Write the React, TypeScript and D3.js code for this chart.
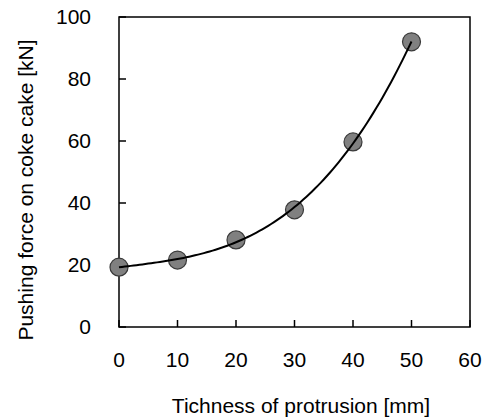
import React from "react";
import * as d3 from "d3";

const thickness = [0, 10, 20, 30, 40, 50];
const force = [19.3, 21.6, 28.1, 37.8, 59.7, 92.0];
const xTicks = [0, 10, 20, 30, 40, 50, 60];
const yTicks = [0, 20, 40, 60, 80, 100];

// Least-squares cubic fit of force vs thickness, used for the trend curve.
function polyFit(xs: number[], ys: number[], deg: number): number[] {
  const n = deg + 1;
  const A: number[][] = Array.from({ length: n }, () => new Array(n + 1).fill(0));
  for (let r = 0; r < n; r++) {
    for (let c = 0; c < n; c++) {
      A[r][c] = d3.sum(xs, (x) => Math.pow(x, r + c));
    }
    A[r][n] = d3.sum(xs, (x, i) => ys[i] * Math.pow(x, r));
  }
  for (let i = 0; i < n; i++) {
    let p = i;
    for (let k = i + 1; k < n; k++) if (Math.abs(A[k][i]) > Math.abs(A[p][i])) p = k;
    [A[i], A[p]] = [A[p], A[i]];
    for (let k = i + 1; k < n; k++) {
      const f = A[k][i] / A[i][i];
      for (let c = i; c <= n; c++) A[k][c] -= f * A[i][c];
    }
  }
  const coef = new Array(n).fill(0);
  for (let i = n - 1; i >= 0; i--) {
    let s = A[i][n];
    for (let c = i + 1; c < n; c++) s -= A[i][c] * coef[c];
    coef[i] = s / A[i][i];
  }
  return coef;
}

export default function App() {
  const width = 488;
  const height = 419;
  const left = 119;
  const right = 470;
  const top = 17;
  const bottom = 327;

  const x = d3.scaleLinear().domain([0, 60]).range([left, right]);
  const y = d3.scaleLinear().domain([0, 100]).range([bottom, top]);

  const coef = polyFit(thickness, force, 3);
  const fit = (t: number) => coef.reduce((s, c, i) => s + c * Math.pow(t, i), 0);
  const curvePts = d3.range(0, 50.01, 0.5).map((t) => [t, fit(t)] as [number, number]);
  const line = d3
    .line<[number, number]>()
    .x((d) => x(d[0]))
    .y((d) => y(d[1]))
    .curve(d3.curveLinear);

  const font = "'Liberation Sans', Arial, sans-serif";
  const fs = 21;
  const tickLen = 7;

  return (
    <svg
      width={width}
      height={height}
      style={{ position: "absolute", left: 0, top: 0, background: "#fff" }}
      fontFamily={font}
    >
      <rect x={0} y={0} width={width} height={height} fill="#fff" />
      {/* plot frame */}
      <rect
        x={left}
        y={top}
        width={right - left}
        height={bottom - top}
        fill="none"
        stroke="#000"
        strokeWidth={1.5}
      />
      {/* y ticks, pointing inward */}
      {yTicks.map((t) => (
        <g key={"y" + t}>
          <line x1={x(0)} x2={x(0) + tickLen} y1={y(t)} y2={y(t)} stroke="#000" strokeWidth={1.5} />
          <text x={91} y={y(t)} dy="0.35em" textAnchor="end" fontSize={fs} fill="#000">
            {t}
          </text>
        </g>
      ))}
      {/* x ticks, pointing inward */}
      {xTicks.map((t) => (
        <g key={"x" + t}>
          <line x1={x(t)} x2={x(t)} y1={y(0)} y2={y(0) - tickLen} stroke="#000" strokeWidth={1.5} />
          <text x={x(t)} y={367} textAnchor="middle" fontSize={fs} fill="#000">
            {t}
          </text>
        </g>
      ))}
      {/* data points */}
      {thickness.map((t, i) => (
        <circle
          key={"p" + t}
          cx={x(t)}
          cy={y(force[i])}
          r={9}
          fill="#808080"
          stroke="#3a3a3a"
          strokeWidth={1.2}
        />
      ))}
      {/* trend curve */}
      <path d={line(curvePts) || ""} fill="none" stroke="#000" strokeWidth={2} />
      {/* axis titles */}
      <text x={301} y={413} textAnchor="middle" fontSize={fs} fill="#000">
        Tichness of protrusion [mm]
      </text>
      <text
        transform="translate(33,190) rotate(-90)"
        textAnchor="middle"
        fontSize={fs}
        fill="#000"
      >
        Pushing force on coke cake [kN]
      </text>
    </svg>
  );
}
